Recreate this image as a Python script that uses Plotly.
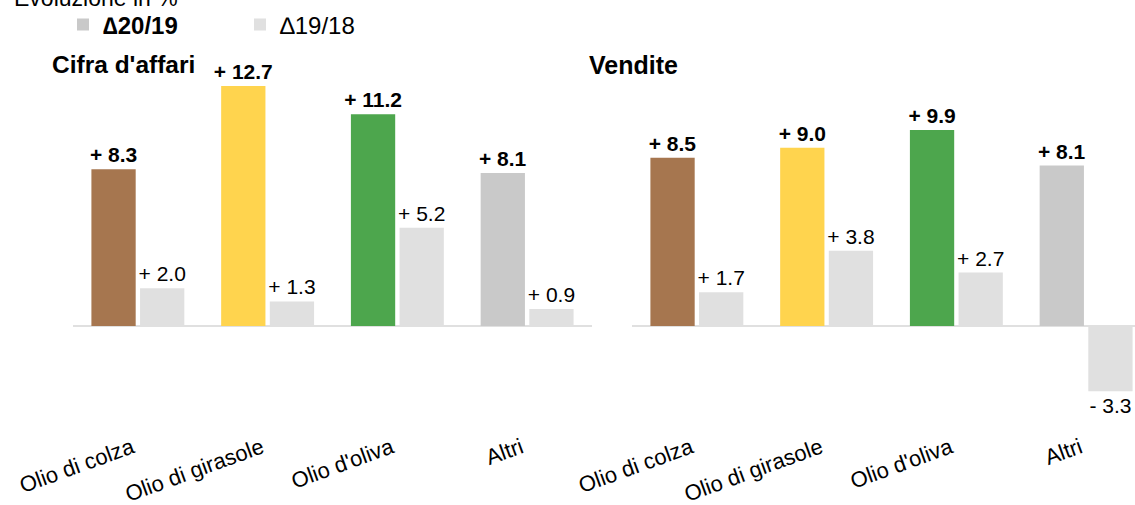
import plotly.graph_objects as go

categories = ["Olio di colza", "Olio di girasole", "Olio d'oliva", "Altri"]
cifra_20_19 = [8.3, 12.7, 11.2, 8.1]
cifra_19_18 = [2.0, 1.3, 5.2, 0.9]
vendite_20_19 = [8.5, 9.0, 9.9, 8.1]
vendite_19_18 = [1.7, 3.8, 2.7, -3.3]
series_names = ["∆20/19", "∆19/18"]
panel_titles = ["Cifra d'affari", "Vendite"]
main_title = "Evoluzione in %"

cat_colors = ["#A6764F", "#FFD44E", "#4DA64D", "#C9C9C9"]
light = "#E0E0E0"
FONT = "Liberation Sans, Arial, sans-serif"
W, H = 1135, 505


def fmt(v):
    return f"{'+' if v >= 0 else '-'} {abs(v):.1f}"


xs = list(range(len(categories)))
fig = go.Figure()

for (a, b, xa, ya) in [(cifra_20_19, cifra_19_18, "x", "y"),
                       (vendite_20_19, vendite_19_18, "x2", "y2")]:
    fig.add_trace(go.Bar(
        x=xs, y=a, xaxis=xa, yaxis=ya, marker_color=cat_colors, marker_line_width=0,
        text=[fmt(v) for v in a], textposition="outside",
        textfont=dict(size=21, color="black", family=FONT, weight="bold"),
        constraintext="none", cliponaxis=False, showlegend=False,
        offsetgroup="a", hoverinfo="skip"))
    fig.add_trace(go.Bar(
        x=xs, y=b, xaxis=xa, yaxis=ya, marker_color=light, marker_line_width=0,
        text=[fmt(v) for v in b], textposition="outside",
        textfont=dict(size=21, color="black", family=FONT),
        constraintext="none", cliponaxis=False, showlegend=False,
        offsetgroup="b", hoverinfo="skip"))

# legend entries
fig.add_trace(go.Bar(x=[None], y=[None], marker_color="#C9C9C9", marker_line_width=0,
                     name="<b>" + series_names[0] + "</b>", showlegend=True))
fig.add_trace(go.Bar(x=[None], y=[None], marker_color=light, marker_line_width=0,
                     name=series_names[1], showlegend=True))

top_px, bot_px = 60, 420
zero_px = 326
plot_h = bot_px - top_px
sl, sr = 18.9, 19.8
yl = [-(bot_px - zero_px) / sl, (zero_px - top_px) / sl]
yr = [-(bot_px - zero_px) / sr, (zero_px - top_px) / sr]

xl0, xl1 = 73, 592
xr0 = 632
unit = (xl1 - xl0) / 4
xr_range = [-0.5, -0.5 + (W - xr0) / unit]

axis_common = dict(showgrid=False, showline=False, ticks="", zeroline=False,
                   tickvals=xs, ticktext=categories, tickangle=-20,
                   tickfont=dict(size=22, color="black", family=FONT),
                   ticklabelshift=-6, ticklabelstandoff=10,
                   automargin=False, fixedrange=True)
yaxis_common = dict(showgrid=False, showline=False, showticklabels=False,
                    zeroline=True, zerolinecolor=light, zerolinewidth=2,
                    ticks="", automargin=False, fixedrange=True)

fig.update_layout(
    template="none",
    width=W, height=H,
    margin=dict(l=0, r=0, t=top_px, b=H - bot_px, pad=0),
    paper_bgcolor="white", plot_bgcolor="white",
    barmode="group", bargap=0.25, bargroupgap=0.09,
    font=dict(family=FONT, color="black"),
    xaxis=dict(domain=[xl0 / W, xl1 / W], range=[-0.5, 3.5], anchor="y", **axis_common),
    xaxis2=dict(domain=[xr0 / W, 1.0], range=xr_range, anchor="y2", **axis_common),
    yaxis=dict(domain=[0, 1], range=yl, anchor="x", **yaxis_common),
    yaxis2=dict(domain=[0, 1], range=yr, anchor="x2", **yaxis_common),
    legend=dict(orientation="h", xref="container", yref="container",
                x=63 / W, xanchor="left", y=1 - 25 / H, yanchor="middle",
                font=dict(size=24, family=FONT, color="black"),
                entrywidth=132, entrywidthmode="pixels", borderwidth=0,
                bgcolor="rgba(0,0,0,0)", itemclick=False, itemdoubleclick=False),
    annotations=[
        dict(text=main_title, xref="paper", yref="paper", x=12 / W, xanchor="left",
             y=(bot_px - 13) / plot_h, yanchor="bottom", showarrow=False,
             font=dict(size=23, family=FONT, color="black")),
        dict(text="<b>" + panel_titles[0] + "</b>", xref="paper", yref="paper",
             x=50 / W, xanchor="left", y=(bot_px - 65) / plot_h, yanchor="middle",
             showarrow=False, font=dict(size=24.5, family=FONT, color="black")),
        dict(text="<b>" + panel_titles[1] + "</b>", xref="paper", yref="paper",
             x=587 / W, xanchor="left", y=(bot_px - 65) / plot_h, yanchor="middle",
             showarrow=False, font=dict(size=25, family=FONT, color="black")),
    ],
)

fig.write_html("out.html", config={"displayModeBar": False},
               post_script="document.body.style.margin='0';document.body.style.overflow='hidden';")
